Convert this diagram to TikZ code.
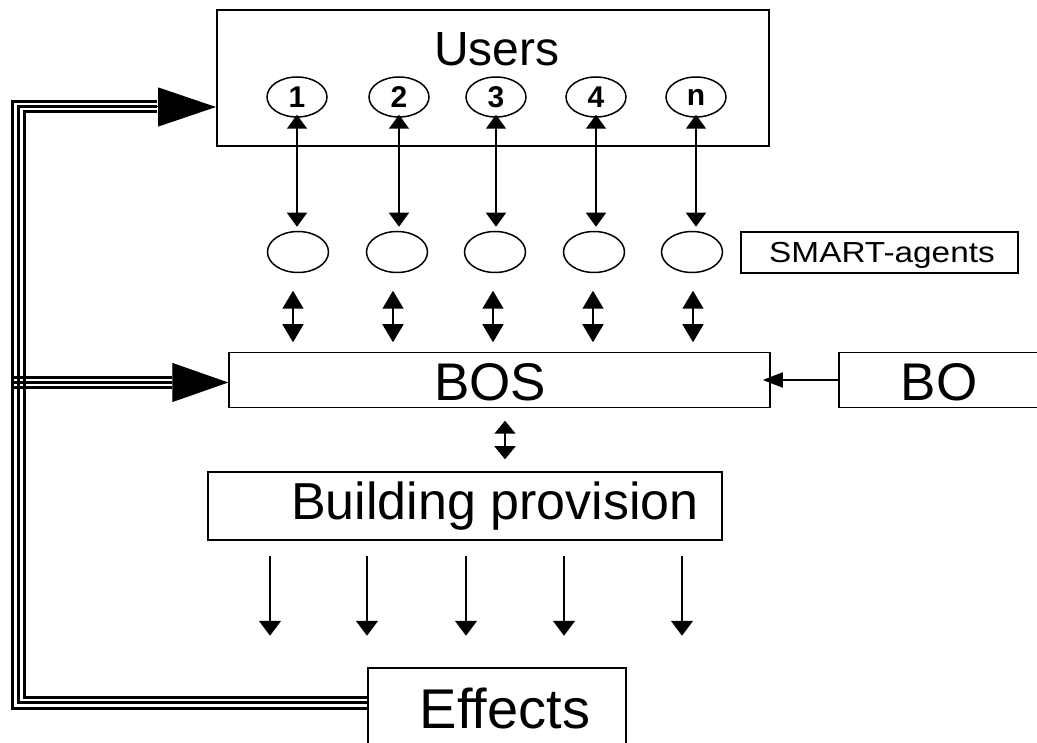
\documentclass[tikz,border=0pt]{standalone}
\usepackage{fontspec}
\setmainfont{Liberation Sans}
\usetikzlibrary{arrows.meta,shapes.geometric,calc}
\newcommand{\udig}[1]{\bfseries\fontsize{30}{30}\selectfont #1}
\begin{document}
\begin{tikzpicture}[x=1pt,y=-1pt,
  box/.style={draw, line width=1.5pt, inner sep=0pt},
  uell/.style={draw, ellipse, line width=1.5pt, minimum width=60pt, minimum height=40pt, inner sep=0pt},
  aell/.style={draw, ellipse, line width=1.5pt, minimum width=61pt, minimum height=41pt, inner sep=0pt},
  trip/.style={line width=3pt, line cap=butt, line join=miter},
  thin/.style={line width=1.5pt},
  udarr/.style={thin, {Triangle[length=14pt,width=20pt]}-{Triangle[length=14pt,width=20pt]}},
  dbarr/.style={thin, {Triangle[length=18pt,width=21pt]}-{Triangle[length=18pt,width=21pt]}},
  smarr/.style={thin, {Triangle[length=13pt,width=21pt]}-{Triangle[length=13pt,width=21pt]}},
  dnarr/.style={thin, -{Triangle[length=15pt,width=22pt]}},
  bigtip/.style={line width=1pt, -{Triangle[length=58pt,width=39pt]}}
]
\useasboundingbox (0,0) rectangle (1037,743);
\clip (0,0) rectangle (1037,743);
\fill[white] (0,0) rectangle (1037,743);

% boxes
\node[box, line width=2pt, minimum width=552pt, minimum height=136pt] (users) at (493,78) {};
\node[anchor=base, font=\fontsize{48}{48}\selectfont] (userst) at (497,66) {Users};
\node[uell] (u1) at (297,97) {\udig{1}};
\node[uell] (u2) at (399,97) {\udig{2}};
\node[uell] (u3) at (496,97) {\udig{3}};
\node[uell] (u4) at (596,97) {\udig{4}};
\node[uell] (u5) at (696,97) {\udig{n}};

\node[aell] (a1) at (298,252) {};
\node[aell] (a2) at (397,252) {};
\node[aell] (a3) at (495,252) {};
\node[aell] (a4) at (594,252) {};
\node[aell] (a5) at (692,252) {};

\node[box, minimum width=277pt, minimum height=41pt] (smart) at (879.5,252.5) {};
\node[anchor=base, font=\fontsize{29}{29}\selectfont] (smartt) at (882,263) {\scalebox{1.15}[1]{SMART-agents}};

\node[box, minimum width=541pt, minimum height=55pt] (bos) at (499.5,380) {};
\node[anchor=base, font=\fontsize{53}{53}\selectfont] (bost) at (490,401) {BOS};

\node[box, minimum width=201pt, minimum height=55pt] (bo) at (939.5,380) {};
\node[anchor=base, font=\fontsize{53}{53}\selectfont] (bot) at (939,401) {BO};

\node[box, minimum width=514pt, minimum height=68pt] (bp) at (465,506) {};
\node[anchor=base, font=\fontsize{52}{52}\selectfont] (bpt) at (495,519) {Building provision};

\node[box, minimum width=258pt, minimum height=100pt] (eff) at (497,718) {};
\node[anchor=base, font=\fontsize{56}{56}\selectfont] (efft) at (505,728) {Effects};

% user <-> agent arrows
\foreach \i in {1,...,5}{
  \draw[udarr, shorten <=-3pt, shorten >=4pt] (u\i.south) -- (u\i.south |- a\i.north);
}
% agent <-> BOS arrows
\foreach \i/\dx in {1/-5, 2/-4, 3/-2, 4/-1, 5/1}{
  \draw[dbarr, shorten >=9.5pt] ([xshift=\dx pt, yshift=-17.5pt]a\i.south) -- ([xshift=\dx pt]a\i.south |- bos.north);
}
% BOS <-> building provision
\draw[smarr, shorten <=12.5pt, shorten >=12pt] ([xshift=5.5pt]bos.south) -- ([xshift=5.5pt]bos.south |- bp.north);
% BO -> BOS
\draw[thin, -{Triangle[length=20pt,width=15pt]}] (bo.west) -- ([xshift=-8pt]bos.east);
% building provision -> effects arrows
\foreach \dx in {-195,-98,1,99,217}{
  \draw[dnarr] ([xshift=\dx pt, yshift=-15pt]bp.south) -- ([xshift=\dx pt, yshift=-95pt]bp.south);
}

% triple feedback lines
\coordinate (e1) at (eff.west |- 0,708);
\coordinate (e2) at (eff.west |- 0,702.5);
\coordinate (e3) at (eff.west |- 0,697);
\draw[trip] (e1) -- (12,708) -- (12,102) -- (157,102);
\draw[trip] (e2) -- (18,702.5) -- (18,107) -- (157,107);
\draw[trip] (e3) -- (24,697) -- (24,112) -- (157,112);
\draw[bigtip] (150,107) -- (users.west |- 0,107);

\draw[trip] (11,377.5) -- (172,377.5);
\draw[trip] (11,382.5) -- (172,382.5);
\draw[trip] (11,387.5) -- (172,387.5);
\draw[line width=1pt, -{Triangle[length=56pt,width=39pt]}] (165,382.5) -- (bos.west |- 0,382.5);
\end{tikzpicture}
\end{document}
